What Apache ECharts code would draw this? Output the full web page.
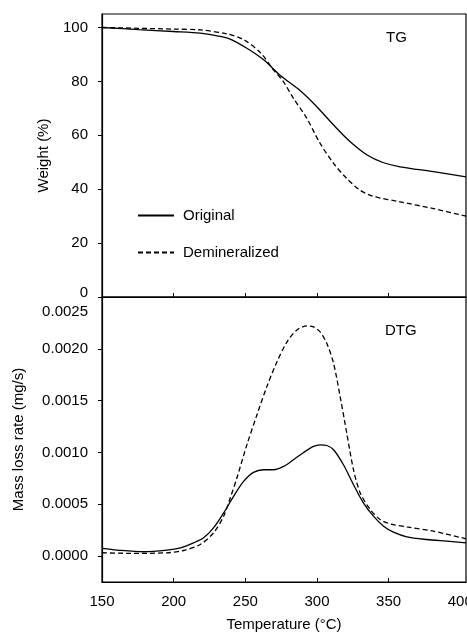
<!DOCTYPE html>
<html><head><meta charset="utf-8">
<script src="https://cdn.jsdelivr.net/npm/echarts@6/dist/echarts.min.js"></script>
<style>html,body{margin:0;padding:0;background:#fff}#c{width:467px;height:635px}</style>
</head><body><div id="c"></div>
<script>
// TG data: [temperature (°C), weight (%)]
const tgOriginal = [[150,100],[175.4,99.2],[199.8,98.5],[218.6,97.9],[230.3,96.9],[239.4,95.7],[251.1,92.3],[262.8,88],[274,82.4],[288.2,76.6],[299.9,70.6],[311.6,63.8],[323.2,57.6],[335,52.7],[346.1,49.9],[358,48.3],[381.3,46.5],[404,44.6]];
const tgDemin = [[150,100],[175.4,99.7],[199.8,99.4],[218.6,99.1],[237.4,97.6],[249.1,95.4],[260.8,90.5],[269.6,84.3],[276.6,79.9],[283.6,73.7],[292.9,66.3],[302.2,57],[311.6,49.6],[320.7,44],[329.9,39.7],[339,37.4],[358,35.3],[381.3,32.8],[404,30]];
// DTG data: [temperature (°C), mass loss rate (mg/s)]
const dtgOriginal = [[150,0.000074],[160.5,0.000058],[179.1,0.000042],[195.3,0.000058],[204.7,0.00008],[213.9,0.000128],[220.9,0.000176],[227.8,0.000272],[234.9,0.000417],[241.8,0.000577],[248.8,0.000721],[255.7,0.000808],[262.8,0.000833],[269.7,0.000833],[276.7,0.000865],[283.6,0.00093],[290.7,0.001],[297.6,0.001058],[302.2,0.001074],[306.9,0.001067],[311.6,0.001026],[318.5,0.000881],[325.5,0.000689],[332.4,0.000513],[339.4,0.000385],[346.5,0.000288],[353.4,0.000231],[362.7,0.000186],[376.6,0.00016],[390.6,0.000144],[404,0.000128]];
const dtgDemin = [[150,0.000032],[172.1,0.000026],[195.3,0.000032],[206.9,0.000054],[218.6,0.000112],[227.8,0.000224],[234.9,0.000385],[239.5,0.000561],[244.1,0.000753],[251.1,0.001074],[258.1,0.001362],[265,0.001635],[272.1,0.001875],[279.1,0.002067],[285.8,0.00218],[293,0.002221],[297.6,0.002211],[302.2,0.002163],[306.9,0.002051],[311.6,0.001859],[316.2,0.001538],[320.8,0.001186],[325.5,0.000833],[330.2,0.000609],[337.2,0.000449],[344.1,0.000353],[351.1,0.000311],[362.7,0.000282],[381.3,0.00024],[404,0.000167]];
const xLabels = [150,200,250,300,350,400];
const xTickMarks = [200,250,300,350];
const tgTicks = [0,20,40,60,80,100];
const dtgTicks = [0,0.0005,0.001,0.0015,0.002,0.0025];
const seriesNames = ['Original','Demineralized'];

const font = 'Liberation Sans, Arial, sans-serif';
const fs = 15;
const xMax = 404;
const chart = echarts.init(document.getElementById('c'), null, {renderer:'canvas'});
const solid = {color:'#000', width:1.3, type:'solid'};
const dashed = {color:'#000', width:1.3, type:[5,3]};
const axisLine = {show:true, onZero:false, lineStyle:{color:'#000', width:1.2}};
chart.setOption({
  animation:false,
  backgroundColor:'#fff',
  grid:[
    {left:102, right:1, top:14, height:283, show:true, borderColor:'#000', borderWidth:1.2, containLabel:false, outerBoundsMode:'none'},
    {left:102, right:1, top:297, height:285, show:true, borderColor:'#000', borderWidth:1.2, containLabel:false, outerBoundsMode:'none'}
  ],
  legend:{
    data:seriesNames, orient:'vertical', left:137, top:208, padding:0, itemWidth:36, itemHeight:14, itemGap:22,
    itemStyle:{opacity:0},
    textStyle:{fontFamily:font, fontSize:fs, color:'#000', padding:[0,0,0,4]}
  },
  xAxis:[
    {gridIndex:0, type:'value', min:150, max:xMax, axisLine:axisLine,
     axisTick:{inside:true, length:4, lineStyle:{color:'#000'}, customValues:xTickMarks}, axisLabel:{show:false}, splitLine:{show:false}},
    {gridIndex:1, type:'value', min:150, max:xMax, axisLine:axisLine,
     axisTick:{inside:true, length:4, lineStyle:{color:'#000'}, customValues:xTickMarks},
     axisLabel:{margin:12, fontFamily:font, fontSize:fs, color:'#000', customValues:xLabels},
     splitLine:{show:false},
     name:'Temperature (°C)', nameLocation:'middle', nameGap:35,
     nameTextStyle:{fontFamily:font, fontSize:fs, color:'#000'}}
  ],
  yAxis:[
    {gridIndex:0, type:'value', min:0, max:105, axisLine:axisLine,
     axisTick:{length:4, lineStyle:{color:'#000'}, customValues:tgTicks},
     axisLabel:{margin:14, fontFamily:font, fontSize:fs, color:'#000', customValues:tgTicks,
       formatter:v=> v===0 ? '{b|0}' : String(v), rich:{b:{fontFamily:font, fontSize:fs, color:'#000', padding:[0,0,8,0]}}},
     splitLine:{show:false},
     name:'Weight (%)', nameLocation:'middle', nameGap:51,
     nameTextStyle:{fontFamily:font, fontSize:fs, color:'#000'}},
    {gridIndex:1, type:'value', min:-0.00025, max:0.0025, axisLine:axisLine,
     axisTick:{length:4, lineStyle:{color:'#000'}, customValues:dtgTicks},
     axisLabel:{margin:14, fontFamily:font, fontSize:fs, color:'#000', customValues:dtgTicks,
       formatter:v=> Math.abs(v-0.0025)<1e-9 ? '{t|0.0025}' : v.toFixed(4),
       rich:{t:{fontFamily:font, fontSize:fs, color:'#000', padding:[30,0,0,0]}}},
     splitLine:{show:false},
     name:'Mass loss rate (mg/s)', nameLocation:'middle', nameGap:76,
     nameTextStyle:{fontFamily:font, fontSize:fs, color:'#000'}}
  ],
  graphic:[
    {type:'text', left:386, top:30, style:{text:'TG', fontFamily:font, fontSize:fs, fill:'#000'}},
    {type:'text', left:385, top:323, style:{text:'DTG', fontFamily:font, fontSize:fs, fill:'#000'}}
  ],
  series:[
    {name:seriesNames[0], type:'line', xAxisIndex:0, yAxisIndex:0, data:tgOriginal, symbol:'none', smooth:0.3, lineStyle:solid, itemStyle:{color:'#000'}},
    {name:seriesNames[1], type:'line', xAxisIndex:0, yAxisIndex:0, data:tgDemin, symbol:'none', smooth:0.3, lineStyle:dashed, itemStyle:{color:'#000'}},
    {name:seriesNames[0], type:'line', xAxisIndex:1, yAxisIndex:1, data:dtgOriginal, symbol:'none', smooth:0.3, lineStyle:solid, itemStyle:{color:'#000'}},
    {name:seriesNames[1], type:'line', xAxisIndex:1, yAxisIndex:1, data:dtgDemin, symbol:'none', smooth:0.3, lineStyle:dashed, itemStyle:{color:'#000'}}
  ]
});
</script></body></html>
